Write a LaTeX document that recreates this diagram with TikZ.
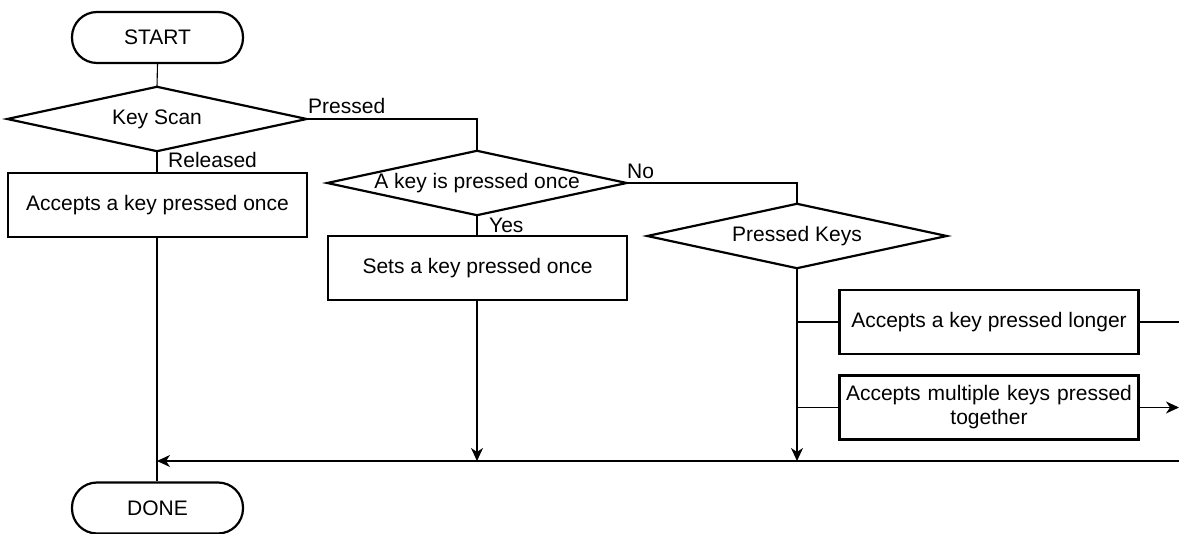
\documentclass[tikz,border=0pt]{standalone}
\usepackage{fontspec}
\setmainfont{Liberation Sans}
\usetikzlibrary{arrows.meta}
\begin{document}
\begin{tikzpicture}[x=1pt,y=-1pt,
  every node/.style={font=\fontsize{21}{24}\selectfont, inner sep=0pt},
  term/.style={draw, line width=2.2pt, rounded corners=25pt, minimum width=171pt, minimum height=51pt},
  proc/.style={draw, line width=2.4pt, minimum width=299pt, minimum height=64pt, align=center},
  decbox/.style={minimum width=299pt, minimum height=64pt},
  decline/.style={line width=2.2pt, line join=miter},
  conn/.style={line width=1.1pt},
  arr/.style={conn, -{Stealth[length=13pt,width=12pt,inset=4pt]}},
  lbl/.style={anchor=west}]
\useasboundingbox (0,0) rectangle (1179,534);

% nodes
\node[term] (start) at (157.5,37.5) {START};
\node[decbox] (ks) at (157,119) {Key Scan};
\draw[decline] (ks.west)--(ks.north)--(ks.east)--(ks.south)--cycle;
\node[proc] (acc1) at (157.5,205) {Accepts a key pressed once};
\node[decbox] (d2) at (477,183) {A key is pressed once};
\draw[decline] (d2.west)--(d2.north)--(d2.east)--(d2.south)--cycle;
\node[proc] (sets) at (477.5,268) {Sets a key pressed once};
\node[decbox] (pk) at (797,236) {Pressed Keys};
\draw[decline] (pk.west)--(pk.north)--(pk.east)--(pk.south)--cycle;
\node[proc] (longer) at (989,322) {Accepts a key pressed longer};
\node[proc, text width=292pt] (multi) at (989,407.5) {Accepts multiple keys pressed\\together};
\node[term] (done) at (157.5,508) {DONE};

% free ends
\coordinate (rl) at (1179,322);
\coordinate (rm) at (1179,407.5);
\coordinate (rb) at (1179,461);
\coordinate (j1) at (157,461);
\coordinate (j2) at (477,461);
\coordinate (j3) at (797,461);

% connectors
\draw[conn] (start.south) -- (ks.north);
\draw[conn] (ks.east) -| (d2.north);
\draw[conn] (ks.south) -- (acc1.north -| ks.south);
\draw[conn] (acc1.south -| ks.south) -- (done.north -| ks.south);
\draw[conn] (d2.east) -| (pk.north);
\draw[conn] (d2.south) -- (sets.north -| d2.south);
\draw[arr] (sets.south -| d2.south) -- (j2);
\draw[arr] (pk.south) -- (j3);
\draw[conn] (pk.south |- longer.west) -- (longer.west);
\draw[conn] (pk.south |- multi.west) -- (multi.west);
\draw[conn] (longer.east) -- (rl);
\draw[arr] (multi.east) -- (rm);
\draw[arr] (rb) -- (j1);

% labels
\node[lbl] (lpressed) at (308,106) {Pressed};
\node[lbl] (lreleased) at (168,160) {Released};
\node[lbl] (lno) at (627,171) {No};
\node[lbl] (lyes) at (489,225) {Yes};
\end{tikzpicture}
\end{document}
